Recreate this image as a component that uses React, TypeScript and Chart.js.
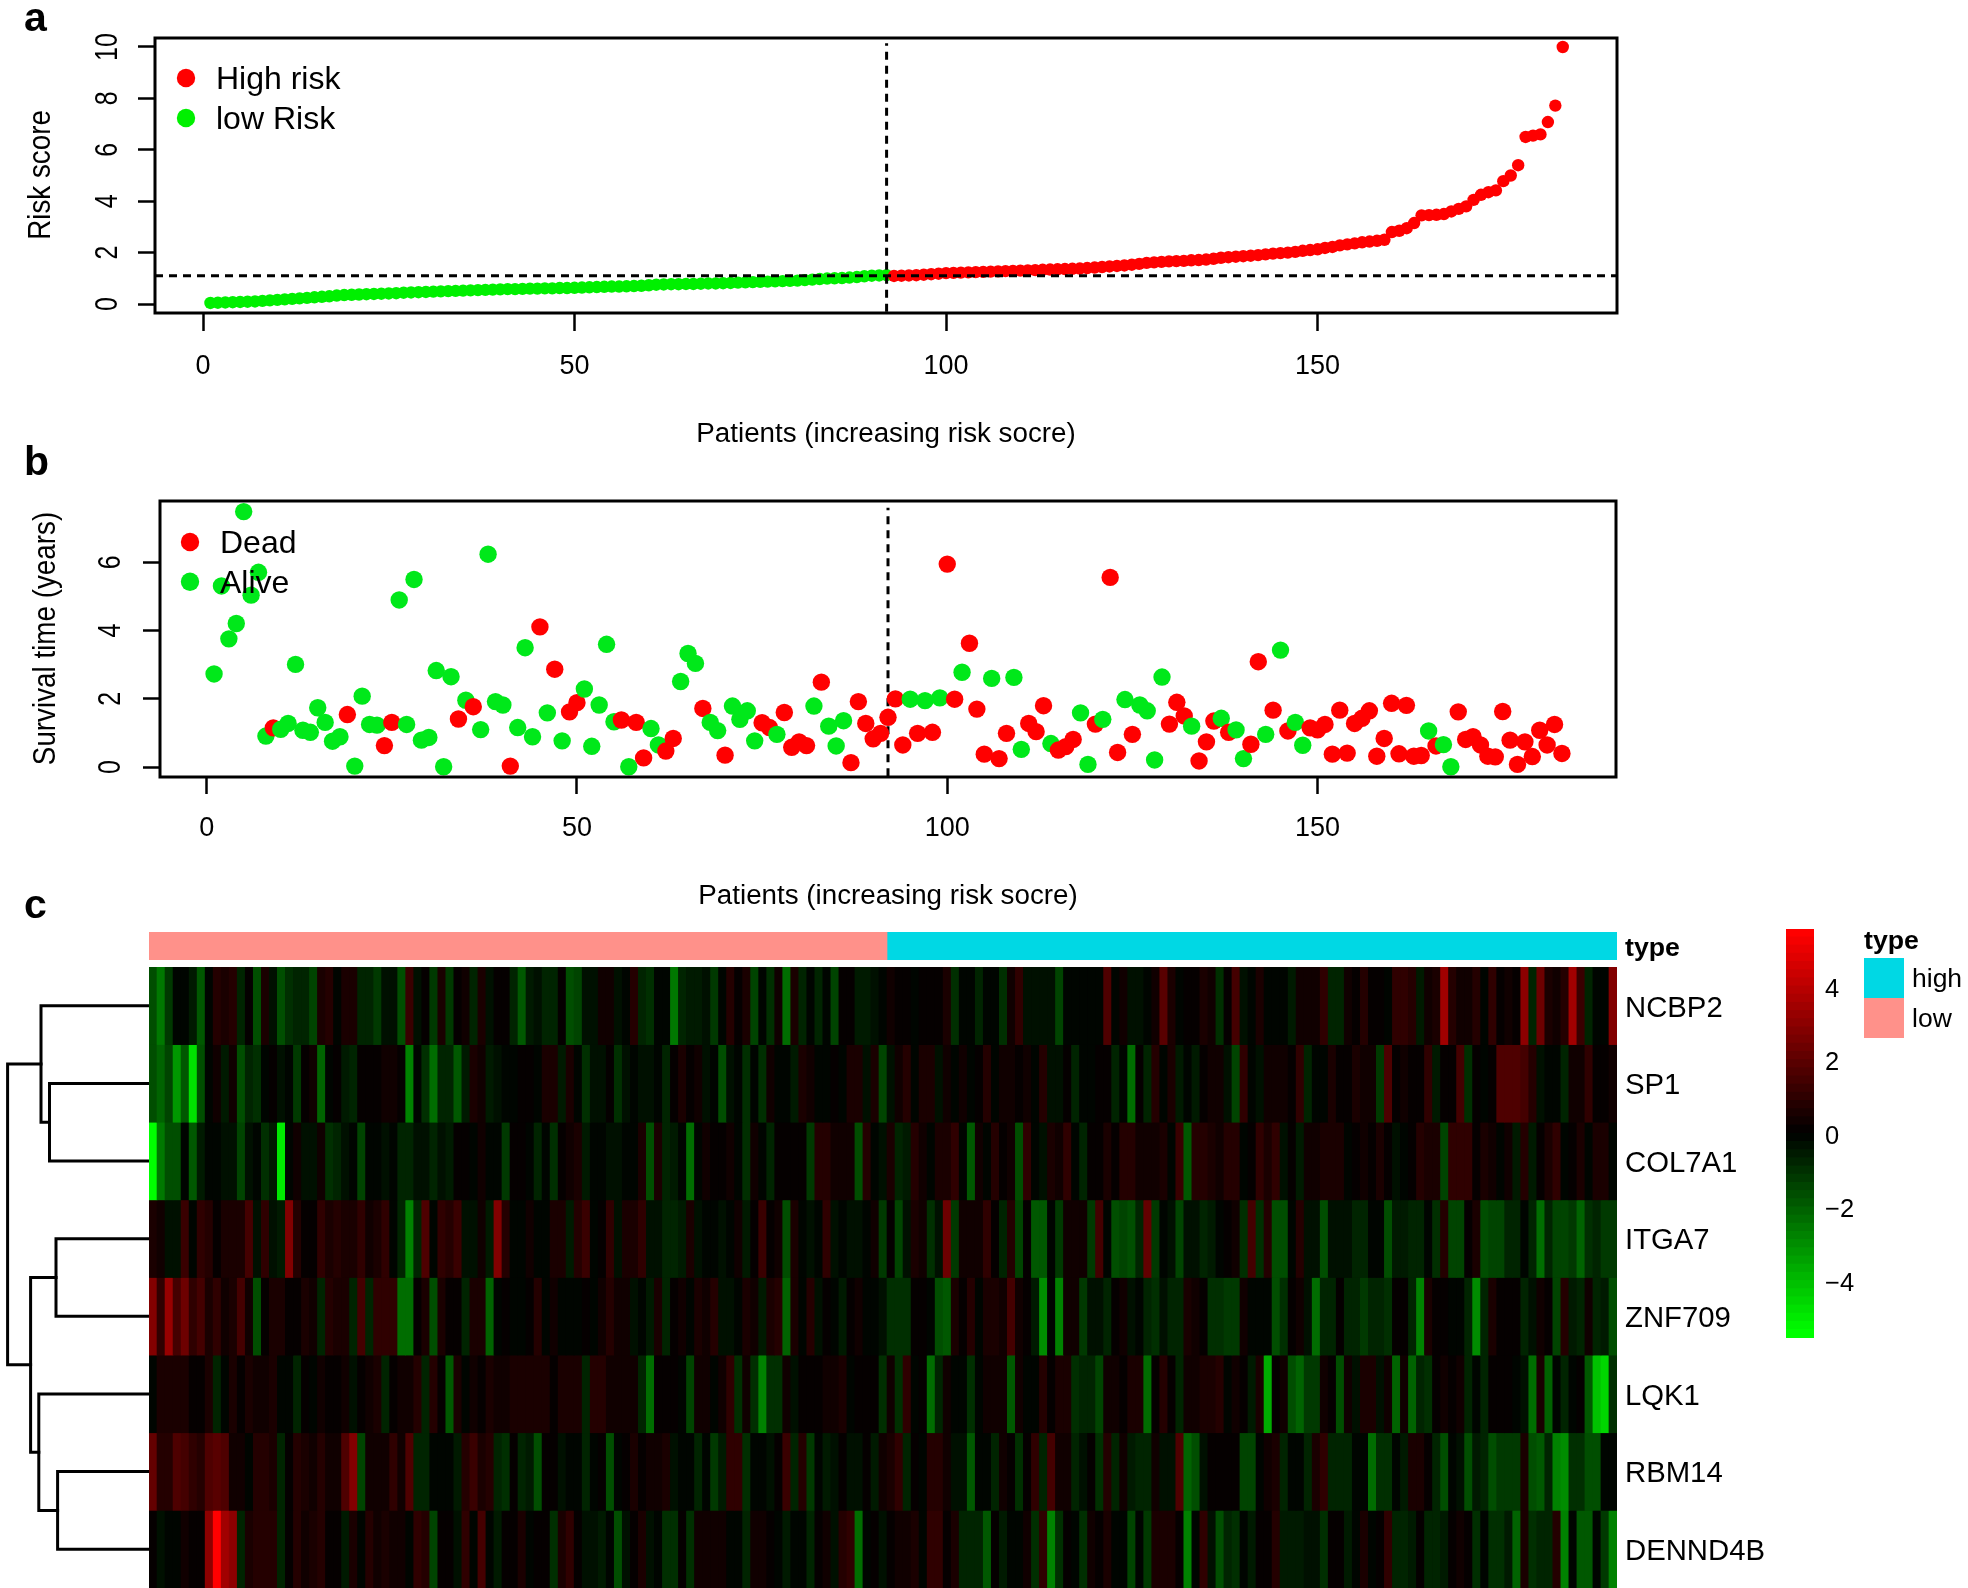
import React, { useEffect, useRef } from "react";
import { Chart, registerables } from "chart.js";

Chart.register(...registerables);

const FONT = '"Liberation Sans", Arial, sans-serif';
const RED = "#ff0000";
const GREEN = "#00e81a";
const GREEN_A = "#00f000";
const LOW_PINK = "#ff918a";
const HIGH_CYAN = "#00d8e4";

// ---------- panel a ----------
const riskScores = [
  0.04, 0.05, 0.06, 0.07, 0.08, 0.09, 0.1, 0.12, 0.14, 0.16,
  0.18, 0.2, 0.22, 0.24, 0.26, 0.28, 0.3, 0.33, 0.35, 0.36,
  0.37, 0.38, 0.39, 0.4, 0.41, 0.42, 0.44, 0.45, 0.46, 0.47,
  0.48, 0.49, 0.5, 0.51, 0.52, 0.53, 0.54, 0.55, 0.56, 0.57,
  0.58, 0.58, 0.59, 0.6, 0.6, 0.61, 0.61, 0.62, 0.62, 0.63,
  0.64, 0.65, 0.66, 0.67, 0.68, 0.68, 0.69, 0.7, 0.71, 0.73,
  0.75, 0.76, 0.77, 0.77, 0.78, 0.78, 0.79, 0.8, 0.8, 0.81,
  0.82, 0.83, 0.84, 0.85, 0.86, 0.87, 0.88, 0.89, 0.9, 0.91,
  0.93, 0.95, 0.97, 0.99, 1.0, 1.01, 1.03, 1.05, 1.08, 1.1,
  1.11, 1.12,
  1.09, 1.1, 1.11, 1.12, 1.14, 1.16, 1.18, 1.2,
  1.21, 1.22, 1.23, 1.24, 1.25, 1.26, 1.27, 1.28, 1.29, 1.3,
  1.31, 1.32, 1.33, 1.34, 1.35, 1.36, 1.37, 1.38, 1.4, 1.42,
  1.44, 1.46, 1.48, 1.5, 1.53, 1.56, 1.6, 1.62, 1.64, 1.66,
  1.67, 1.68, 1.7, 1.71, 1.73, 1.76, 1.8, 1.82, 1.84, 1.86,
  1.88, 1.9, 1.93, 1.96, 1.98, 2.0, 2.03, 2.07, 2.1, 2.13,
  2.18, 2.22, 2.28, 2.32, 2.36, 2.4, 2.43, 2.46, 2.5, 2.8,
  2.85, 2.95, 3.15, 3.45, 3.46, 3.47, 3.5, 3.6, 3.7, 3.8,
  4.05, 4.25, 4.35, 4.42, 4.78, 5.0, 5.4, 6.5, 6.55, 6.6,
  7.08, 7.72, 10.0,
];
const lowRiskCount = 92;
const riskCutoff = 1.1;
const riskYTicks = [0, 2, 4, 6, 8, 10];
const patientXTicks = [0, 50, 100, 150];
const riskLegend = ["High risk", "low Risk"];
const xTitle = "Patients (increasing risk socre)";

// ---------- panel b ----------
const survivalYears = [
  2.73, 5.31, 3.76, 4.21, 7.49, 5.04, 5.71, 0.91, 1.15, 1.11,
  1.28, 3.01, 1.08, 1.02, 1.74, 1.31, 0.76, 0.89, 1.54, 0.03,
  2.08, 1.25, 1.23, 0.63, 1.31, 4.9, 1.25, 5.5, 0.79, 0.87,
  2.83, 0.01, 2.65, 1.41, 1.96, 1.77, 1.1, 6.24, 1.92, 1.82,
  0.03, 1.16, 3.5, 0.89, 4.11, 1.59, 2.87, 0.77, 1.62, 1.89,
  2.29, 0.61, 1.82, 3.6, 1.33, 1.38, 0.01, 1.31, 0.27, 1.13,
  0.65, 0.47, 0.84, 2.51, 3.33, 3.04, 1.72, 1.31, 1.07, 0.35,
  1.79, 1.4, 1.65, 0.77, 1.3, 1.16, 0.96, 1.6, 0.58, 0.74,
  0.63, 1.79, 2.49, 1.2, 0.62, 1.36, 0.13, 1.92, 1.28, 0.83,
  0.99, 1.46, 2.0, 0.65, 1.99, 0.99, 1.95, 1.02, 2.03, 5.95,
  1.99, 2.78, 3.63, 1.7, 0.38, 2.6, 0.25, 0.99, 2.63, 0.52,
  1.28, 1.04, 1.8, 0.69, 0.5, 0.6, 0.81, 1.59, 0.08, 1.26,
  1.4, 5.56, 0.43, 1.98, 0.96, 1.82, 1.65, 0.21, 2.64, 1.26,
  1.9, 1.5, 1.2, 0.18, 0.74, 1.35, 1.43, 1.02, 1.09, 0.25,
  0.67, 3.09, 0.96, 1.67, 3.43, 1.06, 1.31, 0.64, 1.15, 1.09,
  1.25, 0.38, 1.67, 0.41, 1.28, 1.43, 1.65, 0.32, 0.84, 1.87,
  0.39, 1.81, 0.32, 0.34, 1.06, 0.62, 0.66, 0.01, 1.62, 0.81,
  0.89, 0.65, 0.32, 0.3, 1.63, 0.79, 0.08, 0.74, 0.31, 1.08,
  0.65, 1.25, 0.4,
];
const survivalYTicks = [0, 2, 4, 6];
const survivalLegend = ["Dead", "Alive"];
const deadPatients = [
  9, 19, 24, 25, 34, 36, 41, 45, 47, 49, 50, 56, 58, 59, 62, 63, 67, 70, 75, 76, 78, 79, 80, 81, 83, 87, 88, 89, 90, 91, 92, 93, 94, 96, 98, 100, 101, 103, 104,
  105, 107, 108, 111, 112, 113, 115, 116, 117, 120, 122, 123, 125, 130, 131, 132, 134, 135, 136, 138, 141, 142, 144, 146, 149, 150, 151, 152, 153, 154, 155, 156, 157, 158, 159, 160, 161, 162, 163, 164, 166, 169, 170, 171, 172, 173, 174, 175, 176, 177, 178, 179, 180, 181, 182, 183,
];

// ---------- panel c ----------
const geneNames = ["NCBP2", "SP1", "COL7A1", "ITGA7", "ZNF709", "LQK1", "RBM14", "DENND4B"];
const ncbp2 = [
  -2, -2.9, -1.4, 0, -.1, -.7, -2.2, -.1, 1, .6, .9, -.9, .2, -2, .6, -.3, -1.9, -1.2, -.9, -.9, -1.7, .6, .9, -.1, .8, .8, -.9, -.9, -1.4, -.3, -.3, -1.9, 1.5, -.3, .1, -1.4, .7, -1.4, .1, .3, -1, .7, -.5, .2, .1, -1,
  -2.2, -.7, -.3, -1, -1, .2, -1.9, -1.6, -.4, -.4, .4, .3, -.3, -.1, .9, -.8, -1.3, -.1, -.2, -2.9, -.8, -.7, -.7, -.3, -1.4, 0, 1, .1, .8, -1.7, -.2, -1.2, .3, -2.7, .7, -1, 0, -1, -.2, -1.6, .2, .2, -.7, -.7, -.4, 0,
  .3, .2, .1, 0, .1, .1, .2, .6, -1.1, 0, 0, -.8, -.1, 0, -1.2, .5, 1.1, -.3, -.3, -.3, -.4, -1.6, 0, 0, 0, 0, 0, 1.9, 0, .3, -.3, -.3, 0, .3, 2.1, .6, 0, .1, .1, .6, .5, -1.2, .1, 1.8, -.4, 0,
  .8, 0, 0, 0, -.6, .3, .3, .5, 1.3, -.9, -.8, .5, .2, 1, .1, .1, 0, 1.2, 1.1, 1, -.7, .3, .8, 3.7, 1, .5, .3, 1, -.1, 1.1, .1, .3, .2, 3.2, -.9, 2.6, .6, .5, 1, 3.7, 1.4, -.8, 0, 0, 3,
];
const sp1 = [
  -1.8, -2.3, -1.7, -3.4, -2.1, -4.8, -1.8, 0, .3, -.7, .4, -2, -.8, -1.1, 0, .2, -.5, 0, -1.4, .2, .5, -2.4, 0, .1, -.7, -1, .1, .1, .2, .3, .3, .2, -3.1, 0, -1.3, -2.6, -1, -1, -2.1, -.7, .8, .4, -.6, -.4, -.2, -.2,
  .1, .1, -.1, .6, .8, -.6, .6, 0, -1.2, -.4, -.5, .2, -1.3, -.3, -.2, -.4, -.4, -.2, -.9, .1, .6, .1, .5, -.3, -.1, -2, -.4, -.1, -1.2, -.1, -1.1, .4, 0, 0, -.7, .8, .5, -.2, -.2, .1, 0, .6, .7, -.5, .6, -1.7,
  -.4, .3, 1, 0, .6, .6, -.3, .5, -.1, .5, -.1, .1, 1, 0, .5, .5, .1, .5, 0, .9, -.3, -.4, .2, -.9, -.1, -.1, .1, .1, -1, -.1, -2.6, .1, -1, .9, 0, .6, -.7, 0, -.7, .2, .3, .5, -.5, -1.7, 1.2, 0,
  -.4, .5, .5, .5, .1, 1.1, -.8, 0, -.1, .7, .2, .2, .7, .5, .5, -1.4, 2, .2, .4, .1, .1, 1.2, -.7, .2, .2, 1.7, -1.2, .1, 0, .2, 2, 2, 2, 1.6, 1, -.4, -.2, -.2, -1, .5, .3, 1.2, .2, .1, .5,
];
const col7a1 = [
  -5.5, -2.8, -2, -1.8, 0, -2.2, -.7, -.1, -.1, -.3, -.5, -1.7, -.3, 0, -1.1, -.6, -5, 0, .4, -.5, -.5, .5, -1.2, -1, -.5, 0, -1.6, 0, 0, -.5, 0, -1, -1, -.5, -.5, -.8, -.4, -.6, .1, .2, -.2, .3, 0, 0, -1.4, .2,
  .1, -.2, -1, 0, -1.3, .1, .4, .6, -.7, 0, 0, -.5, -.5, 0, 0, .6, -1.8, .7, -.8, -.7, 0, -2.6, 0, .5, .2, .2, .4, 0, -1.2, .3, 0, -1, .2, .2, .2, .1, -1.5, .9, .9, .4, .4, .3, -2, 1, -.1, -.3,
  .6, -.8, -.6, 1, .4, 0, .7, .7, 1.1, 0, -2.2, .5, 0, .9, .1, .3, -2, 1.1, 0, -.5, .6, .4, 1.1, 0, -.8, .1, .2, .7, .2, .9, 1, .4, .3, .3, .8, 0, 1.5, -2.2, .9, 1, .6, .5, .9, .9, 0, .1,
  1.1, .8, 1.2, -.5, .1, -.6, .3, .3, .7, .7, .7, 0, .1, .4, .1, .6, .1, -.5, -.1, .1, 1, .7, .6, -1.7, 1.1, 1.1, 1.1, .2, .7, .3, 0, .4, -.6, 1, -.6, .2, .8, 1.1, 0, .1, .6, 0, .6, .6, 0,
];
const itga7 = [
  .8, .4, -.4, -.4, 1.5, 0, 1.1, 1, .2, .8, .6, .6, 1.7, -.5, 1.1, -.3, -.6, 3, 1, .2, .2, 1.2, .8, .9, .8, .8, 1.1, .3, .6, 1.1, 0, -.8, -3, -.9, 2, 0, 1.1, 1, 1.4, -.3, -.3, .3, -.6, 3, 1, -.2,
  -.1, .4, 0, 0, .8, .8, -.7, 1, 1.4, -.1, .2, 1.3, -.5, .8, .6, 1.2, -.5, -.5, -1, -1, -.7, .8, -.4, 0, 0, -.4, 0, .3, -.7, .1, 1.5, .2, .5, -1.9, .8, -.2, -.4, 0, 1.1, -.3, -.2, -.3, -.4, 0, .3, -1.5,
  .1, -1.7, -.3, .7, .4, -1.2, -.5, 2.6, -1.4, .4, .3, .3, 1.1, .2, -1, .9, -1.6, .2, -2.2, -2.2, 0, -1.5, .3, .4, .4, -1.4, 1.6, 0, -1.9, -1.6, -1.8, -1, 2.4, -1.4, 0, -.3, -1.7, -.4, -.3, -.9, -.6, 0, .1, .5, -1.2, 1.7,
  -1.2, .9, -1.8, -1.8, 0, 1, -.3, -.3, -1.8, -.3, -.5, -.4, -1, -1, 0, 0, -2, -.6, -.6, -.9, -.9, 0, -1.3, .9, -1.6, -1.6, .1, .8, -2, -1.7, -1.7, -1, -1, 0, -1, -2.6, -1, -1.7, -1.7, -1.4, -2.4, -1.1, -1, -1.4, -1.4,
];
const znf709 = [
  3, 1.2, 3.5, 1.8, 2.6, 1.2, 1.8, .6, 1.1, .5, .7, 1.7, .5, -2, .1, .8, .7, .1, .1, .6, .5, -.9, .9, .8, .7, -.8, 1.7, -1, 1.3, 1.2, 1.3, -2.6, -2.7, .2, .6, -1.9, .7, .1, .2, -.8, .6, .8, -2.3, 0, .1, 0,
  0, .2, .9, 0, .3, 0, 0, 0, .1, -.1, .5, 1, .5, .5, -.3, 0, -.6, .8, -.9, .2, .4, 0, .6, .5, .9, -.5, -.4, 0, .6, .4, -.6, .8, .9, -2.4, .7, 0, 1, -.5, .2, 0, -.6, .2, .4, -.2, -.2, -.3,
  -1.1, -1.2, -1.1, .1, .2, 0, -2, -2.2, .8, .2, 1, 0, .6, .6, .4, 1.6, .3, .2, -.7, -3.2, -.2, -3, .4, .3, -1.5, -.3, -.3, -1, .1, .5, -.3, 0, -.8, -1.2, -.3, -1, -1, .7, .3, .2, -1.2, -1.2, -1.4, -1.4, .3, 0,
  0, 0, -1.9, -1.3, .2, .5, -.3, -2.7, -1, -1, .2, -1, -1, -1.4, -1, -1, -1.2, .2, .1, -1, -3, .7, .1, .1, 0, 0, -.8, -3.2, -1, .6, .2, .2, .2, -1, -.3, .4, .1, -1.7, 1, -.6, -.8, .4, -1, -.7, -2,
];
const lqk1 = [
  0, .6, .6, .7, .6, .1, .1, .6, -.8, 0, .7, .1, .6, .5, .4, .6, 0, 0, -.8, .1, -.1, .5, .2, .2, .3, -.5, .1, .5, .6, -1, .1, .4, .4, .9, -1, 1, .1, -2.1, .7, -.2, .3, .2, .6, .5, .5, .6,
  .8, .8, .8, .8, .2, .8, .8, .8, -1, 1, 1, .3, .3, .3, .5, -.9, -2.5, .2, .2, .1, -.1, -1.6, .5, .3, -.1, .4, 1.3, -1.1, .4, -1.1, -3, -1.2, -1.2, .5, -.4, .2, .2, .2, .3, .3, .7, 0, .2, .2, .1, -1.3,
  .4, -1.1, 1.2, 0, .1, -2.5, -1, .5, -.2, 0, -1.3, 0, .5, .4, .4, -2.2, .3, 0, 0, .9, .1, .8, .7, -1.3, -1, -.9, -1.6, .3, .5, .1, .8, .7, -2.5, .1, 1, .1, -1, .3, .3, .7, .8, .9, -.1, .5, .1, -.7,
  .6, -3.9, .1, .5, -2, -2.4, -1.5, -1.5, .5, .2, -2, .4, -.4, .6, .7, -.4, .4, -2.4, .3, -2.3, -1, -1.3, .1, .4, .1, .3, -1, 0, -1, .1, .1, .1, 0, -.4, -2.7, .7, -2.3, 0, -1, -.2, .2, -2.2, -4.4, -4.6, -1.1,
];
const rbm14 = [
  2.3, .9, .9, 1.9, 1.6, 1.1, 1, 1.9, 2.2, 2, .4, .3, -.1, 1, 1, .6, -1, .1, 1, .7, .5, 1, .4, .3, 2, 3, -1.6, .3, .4, .4, 1.1, .4, 1.9, -1, -1, -.2, -.2, -.2, -.7, 1, 1.4, .8, 1, -.8, -1.2, .2,
  -1, -.6, -1.9, .2, .2, -.3, -.2, -.1, -1, 0, .1, -1.8, 0, .2, .8, .1, .3, .3, .8, -.3, 0, 0, -1, 0, -1.4, -.6, 1.1, 1.1, -1.3, 0, 0, -.5, .2, 1.5, -.9, 1, -1.4, 0, -.6, -.5, .1, -.4, -.4, .2, -.7, .3,
  .8, 1.2, -1, .1, -.1, 1, .9, .5, -.5, -.3, -2.2, -.1, 0, -.9, .5, .1, -1.2, .1, 1.1, -1, 1.6, .3, .3, -.8, -.5, .1, -1.2, 1, -1, .5, -.6, -.9, -.9, .4, -.5, -.4, 2, -2.4, -1.8, -.5, .2, .2, .2, .1, -1.7, -1.7,
  -.2, .3, .8, -.8, 0, 0, -.8, .6, 1.3, -.9, -1, -1, -.1, -.1, -2.6, -1.3, -1.2, 0, -.7, .6, .6, .2, -.9, -1.9, -.2, -.3, -1.8, -.7, -.8, -1.9, -1.4, -1.4, -1.4, .6, -1.8, -2.2, -1, -3, -3.2, -1.1, -1.3, -1.8, -1.8, -.2, -.2,
];
const dennd4b = [
  .1, -.5, 0, 0, .3, .1, .1, 3.2, 5.5, 3.6, 3.2, -1, .8, 1, 1, 1, -.9, .1, .9, .4, .6, .9, .2, .2, -.6, .6, -.2, .9, .3, .6, .4, .4, -.1, 1.1, .9, -1.7, .1, .2, -.5, 1.3, -.1, 1.7, 0, -.7, .1, .2,
  .7, 0, .2, .2, -1.2, .7, 1.2, .1, -.4, -.4, -.7, 0, -1.9, -.5, .2, .6, -.4, 0, -1.2, -1.3, .1, -1.3, .4, .5, .5, .5, -.2, -.1, -1, .5, .5, .1, -.1, -.6, 0, 0, -1, .1, .5, -.4, .9, 1.1, -2.5, -.2, .1, -.4,
  .2, .3, .3, .6, 0, 1.1, 1.1, .1, .7, -1, -1, -.9, -2.2, .2, -.7, -.1, -.1, .5, -1.1, 1.3, -3, -1.2, .1, 0, -1.3, .3, .2, .6, 0, 0, -1.6, -.2, -1.4, .6, .8, .8, .2, -3, 0, 1.1, -.4, -1.8, -.9, -1.3, 0, -.7,
  .2, .2, 1, -.7, -.7, -.7, -.4, -.3, -1.3, .1, .1, -.6, -.2, .6, -.2, .2, 1.1, -.9, -.8, -.6, .1, -1, -1, -.6, .2, .5, .1, -1.1, -.2, -1.2, -1.2, -.6, -2.4, .7, -1.2, -.9, -.9, 1, -3, 0, -2.2, -2.2, 0, -1.5, -3,
];
const heatRows = [ncbp2, sp1, col7a1, itga7, znf709, lqk1, rbm14, dennd4b];
const annotationLabel = "type";
const annotationLevels = ["low", "high"];
const annotationCounts = [92, 91];
const legendLevels = ["high", "low"];
const colorbarTicks = [-4, -2, 0, 2, 4];
const colorbarLow = -5.56;
const colorbarHigh = 5.57;
const colorSteps = 50;

// Each merge joins two children: [height, row position] pairs, then the merge height.
const dendroMerges = [
  { h: 99.5, a: [0, 1.5], b: [0, 2.5] },
  { h: 108, a: [0, 0.5], b: [99.5, 2] },
  { h: 93, a: [0, 3.5], b: [0, 4.5] },
  { h: 91.4, a: [0, 6.5], b: [0, 7.5] },
  { h: 110.2, a: [0, 5.5], b: [91.4, 7] },
  { h: 118.4, a: [93, 4], b: [110.2, 6.25] },
  { h: 141.4, a: [108, 1.25], b: [118.4, 5.125] },
];

function levelColor(v: number) {
  const idx = Math.max(0, Math.min(colorSteps - 1, Math.floor(((v - colorbarLow) / (colorbarHigh - colorbarLow)) * colorSteps)));
  const t = idx / (colorSteps - 1);
  const r = t > 0.5 ? Math.round(255 * (2 * t - 1)) : 0;
  const g = t < 0.5 ? Math.round(255 * (1 - 2 * t)) : 0;
  return `rgb(${r},${g},0)`;
}

// Cell colours: the values read by eye run slightly bright in the dim range, so they are calibrated here.
const cellColor = (v: number) => levelColor(v * (0.8 + (0.2 * Math.abs(v)) / 5.5));

function vText(ctx: any, text: string, x: number, y: number, font: string, stretch: number) {
  ctx.save();
  ctx.translate(x, y);
  ctx.rotate(-Math.PI / 2);
  ctx.scale(1, stretch);
  ctx.font = font;
  ctx.fillStyle = "#000";
  ctx.textAlign = "center";
  ctx.textBaseline = "middle";
  ctx.fillText(text, 0, 0);
  ctx.restore();
}

function panelPlugin(cfg: any) {
  return {
    id: "panel",
    afterDraw(chart: any) {
      const { ctx, chartArea: a, scales } = chart;
      ctx.save();
      ctx.strokeStyle = "#000";
      ctx.lineWidth = 3;
      ctx.strokeRect(a.left, a.top, a.right - a.left, a.bottom - a.top);
      cfg.yTicks.forEach((v: number) => {
        vText(ctx, String(v), cfg.tickX, scales.y.getPixelForValue(v), `25px ${FONT}`, 1.25);
      });
      vText(ctx, cfg.yTitle, cfg.titleX, cfg.titleY, `27.8px ${FONT}`, 1.12);
      cfg.legend.forEach((label: string, i: number) => {
        const y = cfg.legendY[i];
        ctx.beginPath();
        ctx.arc(cfg.dotX, y, 9.2, 0, Math.PI * 2);
        ctx.fillStyle = cfg.legendColors[i];
        ctx.fill();
        ctx.fillStyle = "#000";
        ctx.font = `32px ${FONT}`;
        ctx.textAlign = "left";
        ctx.textBaseline = "middle";
        ctx.fillText(label, cfg.textX, y + 2);
      });
      ctx.restore();
    },
  };
}

function scatterPanel(canvas: HTMLCanvasElement, cfg: any) {
  const tickGrid = (len: number) => ({
    drawOnChartArea: false,
    drawTicks: true,
    tickLength: len,
    tickWidth: 2.5,
    tickColor: "#000",
  });
  return new Chart(canvas, {
    type: "scatter",
    data: { datasets: cfg.datasets },
    options: {
      responsive: false,
      animation: false,
      devicePixelRatio: 1,
      layout: { autoPadding: false, padding: { top: cfg.areaTop, right: cfg.areaRight, left: 0, bottom: 0 } },
      plugins: { legend: { display: false }, tooltip: { enabled: false } },
      scales: {
        x: {
          type: "linear",
          min: cfg.xMin,
          max: cfg.xMax,
          afterBuildTicks: (s: any) => { s.ticks = patientXTicks.map((value) => ({ value })); },
          afterFit: (s: any) => { s.height = cfg.xHeight; s.paddingLeft = 0; s.paddingRight = 0; },
          border: { display: false },
          grid: tickGrid(cfg.xTick),
          ticks: { autoSkip: false, maxRotation: 0, padding: cfg.xPad, color: "#000", font: { family: FONT, size: 27 }, callback: (v: any) => String(v) },
          title: { display: true, text: xTitle, color: "#000", font: { family: FONT, size: 27.75 }, padding: { top: 0, bottom: cfg.titlePad } },
        },
        y: {
          type: "linear",
          min: cfg.yMin,
          max: cfg.yMax,
          afterBuildTicks: (s: any) => { s.ticks = cfg.yTicks.map((value: number) => ({ value })); },
          afterFit: (s: any) => { s.width = cfg.areaLeft; s.paddingTop = 0; s.paddingBottom = 0; },
          border: { display: false },
          grid: tickGrid(17),
          ticks: { display: false },
        },
      },
    },
    plugins: [panelPlugin(cfg)],
  } as any);
}

const pageStyle: React.CSSProperties = { position: "absolute", left: 0, top: 0, width: 1968, height: 1588, overflow: "hidden", background: "#fff", fontFamily: FONT, color: "#000" };
const abs = (left: number, top: number, extra: React.CSSProperties = {}): React.CSSProperties => ({ position: "absolute", left, top, ...extra });
const fitRightAxis = (width: number) => (s: any) => { s.width = width; s.paddingTop = 0; s.paddingBottom = 0; };

export default function App() {
  const riskRef = useRef<HTMLCanvasElement>(null);
  const survRef = useRef<HTMLCanvasElement>(null);
  const annoRef = useRef<HTMLCanvasElement>(null);
  const heatRef = useRef<HTMLCanvasElement>(null);
  const dendRef = useRef<HTMLCanvasElement>(null);
  const barRef = useRef<HTMLCanvasElement>(null);

  useEffect(() => {
    const charts: Chart[] = [];
    const dash = (pts: any[]) => ({
      data: pts,
      showLine: true,
      pointRadius: 0,
      borderColor: "#000",
      borderWidth: 3,
      borderDash: [8, 6],
      fill: false,
    });
    const aXMin = -6.46, aXMax = 190.3;
    charts.push(scatterPanel(riskRef.current!, {
      areaLeft: 155, areaTop: 38, areaRight: 351, xHeight: 157, xTick: 18, xPad: 19, titlePad: 19,
      xMin: aXMin, xMax: aXMax, yMin: -0.35, yMax: 10.35, yTicks: riskYTicks,
      tickX: 108, titleX: 41.5, titleY: 175, yTitle: "Risk score",
      legend: riskLegend, legendY: [78, 118], legendColors: [RED, GREEN_A], dotX: 186, textX: 216,
      datasets: [
        dash([{ x: aXMin, y: riskCutoff }, { x: aXMax, y: riskCutoff }]),
        dash([{ x: lowRiskCount, y: -0.3 }, { x: lowRiskCount, y: 10.15 }]),
        {
          data: riskScores.map((y, i) => ({ x: i + 1, y })),
          pointRadius: 6.2,
          pointBorderWidth: 0,
          pointBackgroundColor: riskScores.map((_, i) => (i < lowRiskCount ? GREEN_A : RED)),
          showLine: false,
        },
      ],
    }));
    const bXMin = -6.3, bXMax = 190.3;
    charts.push(scatterPanel(survRef.current!, {
      areaLeft: 160, areaTop: 31, areaRight: 352, xHeight: 153, xTick: 17, xPad: 18.7, titlePad: 17.5,
      xMin: bXMin, xMax: bXMax, yMin: -0.29, yMax: 7.8, yTicks: survivalYTicks,
      tickX: 111, titleX: 46.5, titleY: 168.5, yTitle: "Survival time (years)",
      legend: survivalLegend, legendY: [72, 111.7], legendColors: [RED, GREEN], dotX: 190, textX: 220,
      datasets: [
        {
          data: survivalYears.map((y, i) => ({ x: i + 1, y })),
          pointRadius: 8.7,
          pointBorderWidth: 0,
          pointBackgroundColor: survivalYears.map((_, i) => (deadPatients.includes(i + 1) ? RED : GREEN)),
          showLine: false,
        },
        dash([{ x: lowRiskCount, y: -0.27 }, { x: lowRiskCount, y: 7.6 }]),
      ],
    }));

    charts.push(new Chart(annoRef.current!, {
      type: "bar",
      data: {
        labels: [annotationLabel],
        datasets: annotationLevels.map((name, i) => ({
          label: name,
          data: [annotationCounts[i]],
          backgroundColor: name === "low" ? LOW_PINK : HIGH_CYAN,
          barPercentage: 1,
          categoryPercentage: 1,
          borderWidth: 0,
        })),
      },
      options: {
        indexAxis: "y",
        responsive: false,
        animation: false,
        devicePixelRatio: 1,
        layout: { autoPadding: false, padding: { top: 8, bottom: 8, left: 0, right: 0 } },
        plugins: { legend: { display: false }, tooltip: { enabled: false } },
        scales: {
          x: { display: false, stacked: true, min: 0, max: annotationCounts[0] + annotationCounts[1] },
          y: {
            stacked: true,
            position: "right",
            afterBuildTicks: (s: any) => { s.ticks = [{ value: 0.1 }]; },
            afterFit: fitRightAxis(351),
            border: { display: false },
            grid: { display: false, drawTicks: false },
            ticks: { padding: 8, color: "#000", font: { family: FONT, size: 26.7, weight: "bold" }, callback: () => annotationLabel },
          },
        },
      },
    } as any));

    const columns = ncbp2.map((_, i) => String(i + 1));
    charts.push(new Chart(heatRef.current!, {
      type: "bar",
      data: {
        labels: columns,
        datasets: heatRows.map((row, r) => ({
          label: geneNames[r],
          data: row.map(() => [r, r + 1]),
          backgroundColor: row.map(cellColor),
          barPercentage: 1,
          categoryPercentage: 1,
          borderWidth: 0,
          stack: "heat",
        })),
      },
      options: {
        responsive: false,
        animation: false,
        devicePixelRatio: 1,
        layout: { autoPadding: false, padding: 0 },
        plugins: { legend: { display: false }, tooltip: { enabled: false } },
        scales: {
          x: { display: false, stacked: true },
          y: {
            type: "linear",
            stacked: false,
            reverse: true,
            min: 0,
            max: geneNames.length,
            position: "right",
            afterBuildTicks: (s: any) => { s.ticks = geneNames.map((_, i) => ({ value: i + 0.535 })); },
            afterFit: fitRightAxis(351),
            border: { display: false },
            grid: { display: false, drawTicks: false },
            ticks: {
              autoSkip: false,
              padding: 8,
              color: "#000",
              font: { family: FONT, size: 29.3 },
              callback: (v: any) => geneNames[Math.floor(v)],
            },
          },
        },
      },
      plugins: [{
        id: "heatBack",
        beforeDatasetsDraw(chart: any) {
          const { ctx, chartArea: a } = chart;
          ctx.save();
          ctx.fillStyle = "#000";
          ctx.fillRect(a.left, a.top, a.right - a.left, a.bottom - a.top);
          ctx.restore();
        },
      }],
    } as any));

    charts.push(new Chart(dendRef.current!, {
      type: "scatter",
      data: {
        datasets: dendroMerges.map((m) => ({
          data: [
            { x: m.a[0], y: m.a[1] },
            { x: m.h, y: m.a[1] },
            { x: m.h, y: m.b[1] },
            { x: m.b[0], y: m.b[1] },
          ],
          showLine: true,
          pointRadius: 0,
          borderColor: "#000",
          borderWidth: 3,
          borderCapStyle: "square",
          borderJoinStyle: "miter",
          fill: false,
          clip: false,
        })),
      },
      options: {
        responsive: false,
        animation: false,
        devicePixelRatio: 1,
        layout: { autoPadding: false, padding: 0 },
        plugins: { legend: { display: false }, tooltip: { enabled: false } },
        scales: {
          x: { display: false, type: "linear", reverse: true, min: 0, max: 149 },
          y: { display: false, type: "linear", reverse: true, min: 0, max: geneNames.length },
        },
      },
    } as any));

    const levels = Array.from({ length: colorSteps }, (_, i) => i);
    const span = (colorbarHigh - colorbarLow) / colorSteps;
    charts.push(new Chart(barRef.current!, {
      type: "bar",
      data: {
        labels: ["scale"],
        datasets: levels.map((i) => {
          const lo = colorbarLow + i * span;
          return {
            data: [[lo, lo + span + 0.01]],
            backgroundColor: levelColor(lo + span / 2),
            barPercentage: 1,
            categoryPercentage: 1,
            borderWidth: 0,
            stack: "scale",
          };
        }),
      },
      options: {
        responsive: false,
        animation: false,
        devicePixelRatio: 1,
        layout: { autoPadding: false, padding: 0 },
        plugins: { legend: { display: false }, tooltip: { enabled: false } },
        scales: {
          x: { display: false, stacked: true },
          y: {
            type: "linear",
            stacked: false,
            min: colorbarLow,
            max: colorbarHigh,
            position: "right",
            afterBuildTicks: (s: any) => { s.ticks = colorbarTicks.map((v) => ({ value: v - 0.08 })); },
            afterFit: fitRightAxis(52),
            border: { display: false },
            grid: { display: false, drawTicks: false },
            ticks: {
              autoSkip: false,
              padding: 11,
              color: "#000",
              font: { family: FONT, size: 25.5 },
              callback: (v: any) => {
                const n = Math.round(v);
                return n < 0 ? "\u2212" + Math.abs(n) : String(n);
              },
            },
          },
        },
      },
    } as any));

    return () => charts.forEach((c) => c.destroy());
  }, []);

  const letter: React.CSSProperties = { fontWeight: "bold", fontSize: 41, lineHeight: "40px" };
  const legendText: React.CSSProperties = { fontSize: 26.5, lineHeight: "40px" };
  return (
    <div style={pageStyle}>
      <canvas ref={riskRef} width={1968} height={470} style={abs(0, 0)} />
      <canvas ref={survRef} width={1968} height={460} style={abs(0, 470)} />
      <canvas ref={annoRef} width={1819} height={44} style={abs(149, 924)} />
      <canvas ref={heatRef} width={1819} height={621} style={abs(149, 967)} />
      <canvas ref={dendRef} width={149} height={621} style={abs(0, 967)} />
      <canvas ref={barRef} width={80} height={409} style={abs(1786, 929)} />
      <div style={abs(24, -3, letter)}>a</div>
      <div style={abs(24, 441, letter)}>b</div>
      <div style={abs(24, 884, letter)}>c</div>
      <div style={abs(1864, 921, { fontWeight: "bold", fontSize: 26.7, lineHeight: "38px" })}>{annotationLabel}</div>
      {legendLevels.map((name, i) => (
        <React.Fragment key={name}>
          <div style={abs(1864, 958 + i * 40, { width: 40, height: 40, background: name === "low" ? LOW_PINK : HIGH_CYAN })} />
          <div style={abs(1912, 958 + i * 40, legendText)}>{name}</div>
        </React.Fragment>
      ))}
    </div>
  );
}
